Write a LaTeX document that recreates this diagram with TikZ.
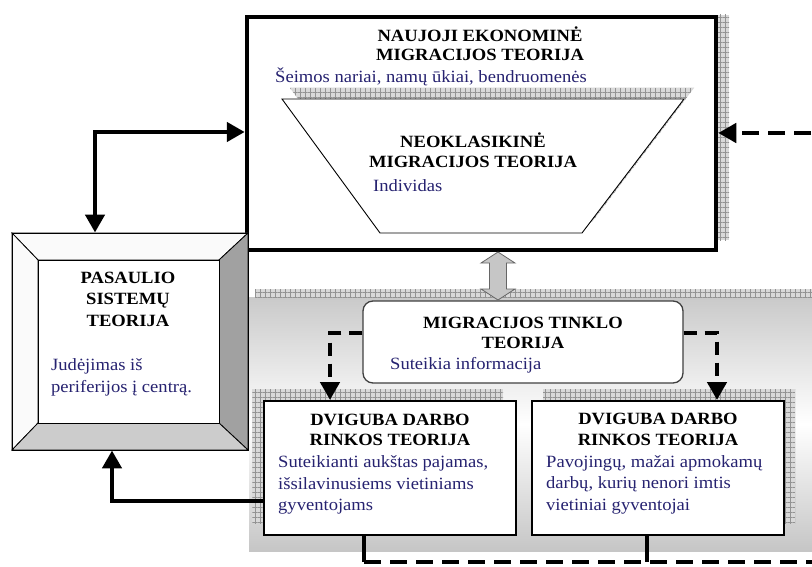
\documentclass[tikz,border=0pt]{standalone}
\usepackage{fontspec}
\setmainfont{Liberation Serif}[FakeStretch=1.08]
\usetikzlibrary{arrows.meta,patterns.meta}
\definecolor{navy}{RGB}{38,34,112}
\newcommand\dfs{\fontsize{17.2}{20}\selectfont}
\tikzset{
  hatchbg/.style={fill=gray!30},
  hatchln/.style={pattern={Hatch[angle=0,distance=5pt,line width=0.7pt]},pattern color=gray!85},
  ttl/.style={font=\dfs\bfseries, inner sep=0pt, anchor=base},
  bdy/.style={font=\dfs, text=navy, inner sep=0pt, anchor=base west},
  conn/.style={line width=4.5pt},
  tri/.tip={Triangle[length=18pt,width=19pt]},
  ndash/.style={dash pattern=on 13pt off 8pt},
  bdash/.style={dash pattern=on 17pt off 9pt},
  topbox/.style={draw, line width=4.5pt, fill=white, inner sep=0pt, minimum width=469pt, minimum height=233pt},
  lowbox/.style={draw, line width=2pt, fill=white, inner sep=0pt, minimum width=252pt, minimum height=134pt},
  netbox/.style={draw=black!75, line width=1.3pt, fill=white, rounded corners=10pt, inner sep=0pt, minimum width=320pt, minimum height=82pt},
  pasbox/.style={draw, line width=0.9pt, inner sep=0pt, minimum width=236pt, minimum height=217pt},
  bevel/.style={draw, line width=0.8pt},
}
\begin{document}
\begin{tikzpicture}[x=1pt,y=-1pt]
\useasboundingbox (0,0) rectangle (812,567);

% grey panel behind the lower theories
\shade[top color=gray!42, bottom color=gray!45, middle color=white] (249,297) rectangle (812,551);
\fill[hatchbg] (255,289) rectangle (812,297);
\fill[hatchln] (255,289) rectangle (812,297);

% top box with shadow strip
\fill[hatchbg] (718,15) rectangle (729,240);
\fill[hatchln] (718,15) rectangle (729,240);
\node[topbox] (neb) at (481.5,133.5) {};

% trapezoid with shadow
\fill[hatchbg] (290,88) -- (694,88) -- (592,222) -- (390,222) -- cycle;
\fill[hatchln] (290,88) -- (694,88) -- (592,222) -- (390,222) -- cycle;
\draw[fill=white, line width=0.9pt] (282,99) -- (684,99) -- (582,233) -- (380,233) -- cycle;

% bevelled box
\draw[bevel, fill=gray!4] (12,233) -- (248,233) -- (219,260) -- (38,260) -- cycle;
\draw[bevel, fill=gray!4] (12,233) -- (38,260) -- (38,423) -- (12,450) -- cycle;
\draw[bevel, fill=gray!74] (248,233) -- (248,450) -- (219,423) -- (219,260) -- cycle;
\draw[bevel, fill=gray!40] (12,450) -- (248,450) -- (219,423) -- (38,423) -- cycle;
\draw[bevel, fill=white] (38,260) rectangle (219,423);
\node[pasbox] (pas) at (130,341.5) {};

% lower boxes with shadows
\fill[hatchbg] (252,389) rectangle (503,523);
\fill[hatchln] (252,389) rectangle (503,523);
\fill[hatchbg] (543,389) rectangle (795,523);
\fill[hatchln] (543,389) rectangle (795,523);
\node[lowbox] (lb) at (389.5,468) {};
\node[lowbox] (rb) at (657.5,468) {};

% network box
\node[netbox] (net) at (523,342) {};

% double block arrow
\draw[fill=gray!45, draw=black!60, line width=0.8pt]
  (498,252) -- (515,263) -- (506.5,263) -- (506.5,289) -- (515,289) -- (498,300)
  -- (481,289) -- (489.5,289) -- (489.5,263) -- (481,263) -- cycle;

% connectors
\coordinate (k1) at (95,132);
\coordinate (k2) at (112,501);
\coordinate (k3) at (330,333);
\coordinate (k4) at (717,333);
\coordinate (k5) at (364,562);
\coordinate (k6) at (647,562);
\coordinate (k7) at (815,562);
\coordinate (k8) at (815,133);
\draw[conn, tri-tri] (pas.north -| k1) |- (neb.west |- k1);
\draw[conn, -tri] (lb.west |- k2) -| (pas.south -| k2);
\draw[conn, ndash, -tri] (net.west |- k3) -| (lb.north -| k3);
\draw[conn, ndash, -tri] (net.east |- k4) -| (rb.north -| k4);
\draw[conn] (lb.south -| k5) -- (k5);
\draw[conn] (rb.south -| k6) -- (k6);
\draw[conn, bdash, -tri] (k5) -- (k7) -- (k8) -- (neb.east |- k8);

% texts
\node[ttl] (t1a) at (480,42) {NAUJOJI EKONOMINĖ};
\node[ttl] (t1b) at (480,61) {MIGRACIJOS TEORIJA};
\node[bdy] (t1c) at (275,83) {Šeimos nariai, namų ūkiai, bendruomenės};
\node[ttl] (t2a) at (473,148) {NEOKLASIKINĖ};
\node[ttl] (t2b) at (473,168) {MIGRACIJOS TEORIJA};
\node[bdy] (t2c) at (373,192) {Individas};
\node[ttl] (t3a) at (128,283) {PASAULIO};
\node[ttl] (t3b) at (128,304) {SISTEMŲ};
\node[ttl] (t3c) at (128,326) {TEORIJA};
\node[bdy] (t3d) at (51,370) {Judėjimas iš};
\node[bdy] (t3e) at (51,392) {periferijos į centrą.};
\node[ttl] (t4a) at (523,328) {MIGRACIJOS TINKLO};
\node[ttl] (t4b) at (523,348) {TEORIJA};
\node[bdy] (t4c) at (390,369) {Suteikia informacija};
\node[ttl] (t5a) at (390,425) {DVIGUBA DARBO};
\node[ttl] (t5b) at (390,445) {RINKOS TEORIJA};
\node[bdy] (t5c) at (278,467) {Suteikianti aukštas pajamas,};
\node[bdy] (t5d) at (278,489) {išsilavinusiems vietiniams};
\node[bdy] (t5e) at (278,510) {gyventojams};
\node[ttl] (t6a) at (658,424) {DVIGUBA DARBO};
\node[ttl] (t6b) at (658,445) {RINKOS TEORIJA};
\node[bdy] (t6c) at (546,467) {Pavojingų, mažai apmokamų};
\node[bdy] (t6d) at (546,488) {darbų, kurių nenori imtis};
\node[bdy] (t6e) at (546,510) {vietiniai gyventojai};
\end{tikzpicture}
\end{document}
